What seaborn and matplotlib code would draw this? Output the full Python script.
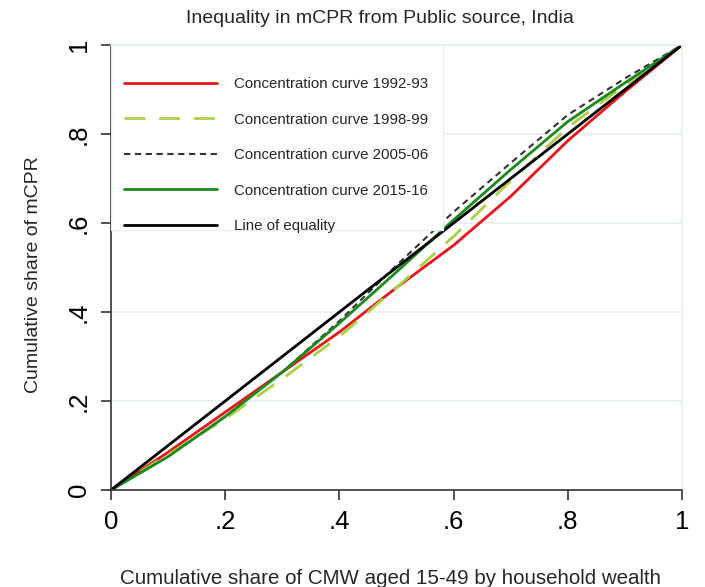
import matplotlib
matplotlib.use("Agg")
import matplotlib.pyplot as plt
import seaborn as sns
import pandas as pd
from matplotlib.patches import Rectangle

# cumulative share of population (x) and mCPR (y)
pop_share = [0.0, 0.1, 0.2, 0.3, 0.4, 0.5, 0.6, 0.7, 0.8, 0.9, 1.0]
cc_1992 = [0.0, 0.085, 0.175, 0.265, 0.355, 0.455, 0.55, 0.66, 0.785, 0.895, 1.0]
cc_1998 = [0.0, 0.08, 0.16, 0.25, 0.345, 0.455, 0.57, 0.695, 0.815, 0.91, 1.0]
cc_2005 = [0.0, 0.075, 0.165, 0.265, 0.38, 0.505, 0.625, 0.735, 0.843, 0.925, 1.0]
cc_2015 = [0.0, 0.075, 0.165, 0.265, 0.375, 0.49, 0.607, 0.72, 0.828, 0.915, 1.0]
equality = [0.0, 1.0]

labels = ["Concentration curve 1992-93", "Concentration curve 1998-99",
          "Concentration curve 2005-06", "Concentration curve 2015-16",
          "Line of equality"]
ticks = [0, 0.2, 0.4, 0.6, 0.8, 1.0]
tick_labels = ["0", ".2", ".4", ".6", ".8", "1"]

sns.set_theme(style="white")
plt.rcParams['font.family'] = ['Liberation Sans', 'DejaVu Sans']

fig = plt.figure(figsize=(7.05, 5.87), dpi=100)
ax = fig.add_axes([0.1574, 0.1652, 0.8100, 0.7581])

lw = 2.0
sns.lineplot(x=pop_share, y=cc_1992, color="#E8141A", lw=lw, ax=ax, label=labels[0], estimator=None)
sns.lineplot(x=pop_share, y=cc_1998, color="#A9D143", lw=lw, ax=ax, label=labels[1],
             estimator=None, linestyle=(0, (7.5, 5)))
sns.lineplot(x=pop_share, y=cc_2005, color="#333333", lw=1.5, ax=ax, label=labels[2],
             estimator=None, linestyle=(0, (3, 2.2)))
sns.lineplot(x=pop_share, y=cc_2015, color="#1A8A1A", lw=lw, ax=ax, label=labels[3], estimator=None)
sns.lineplot(x=equality, y=equality, color="black", lw=lw, ax=ax, label=labels[4], estimator=None)

ax.set_xlim(0, 1)
ax.set_ylim(0, 1)
ax.set_xticks(ticks)
ax.set_xticklabels(tick_labels)
ax.set_yticks(ticks)
ax.set_yticklabels(tick_labels, rotation=90, va="center")
ax.tick_params(axis="both", direction="out", length=7.5, width=1.2, color="#333333",
               labelsize=18.5, labelcolor="black", bottom=True, left=True, pad=7)

# light horizontal grid, like Stata's s2color scheme
for v in ticks[1:]:
    ax.axhline(v, color="#E6EFF1", lw=1.2, zorder=0)
for side in ["top", "right"]:
    ax.spines[side].set_color("#E6EFF1")
    ax.spines[side].set_linewidth(1.2)
for side in ["left", "bottom"]:
    ax.spines[side].set_color("#333333")
    ax.spines[side].set_linewidth(1.2)

ax.set_xlabel("Cumulative share of CMW aged 15-49 by household wealth", fontsize=14.8)
ax.xaxis.set_label_coords(0.489, -0.178)
ax.set_ylabel("Cumulative share of mCPR", fontsize=14)
ax.yaxis.set_label_coords(-0.121, 0.485)
fig.text(0.539, 0.969, "Inequality in mCPR from Public source, India", fontsize=14,
         ha="center", va="center")

# opaque legend box in the upper-left corner
ax.add_patch(Rectangle((0.0, 0.584), 0.581, 0.416, transform=ax.transAxes,
                       facecolor="white", edgecolor="#E6EFF1", lw=1.0, zorder=5))
leg = ax.legend(loc="upper left", bbox_to_anchor=(0.0, 0.958), frameon=False,
                fontsize=10.8, handlelength=6.2, handletextpad=1.07, labelspacing=1.43)
leg.set_zorder(6)

fig.savefig("out.png", dpi=100)
